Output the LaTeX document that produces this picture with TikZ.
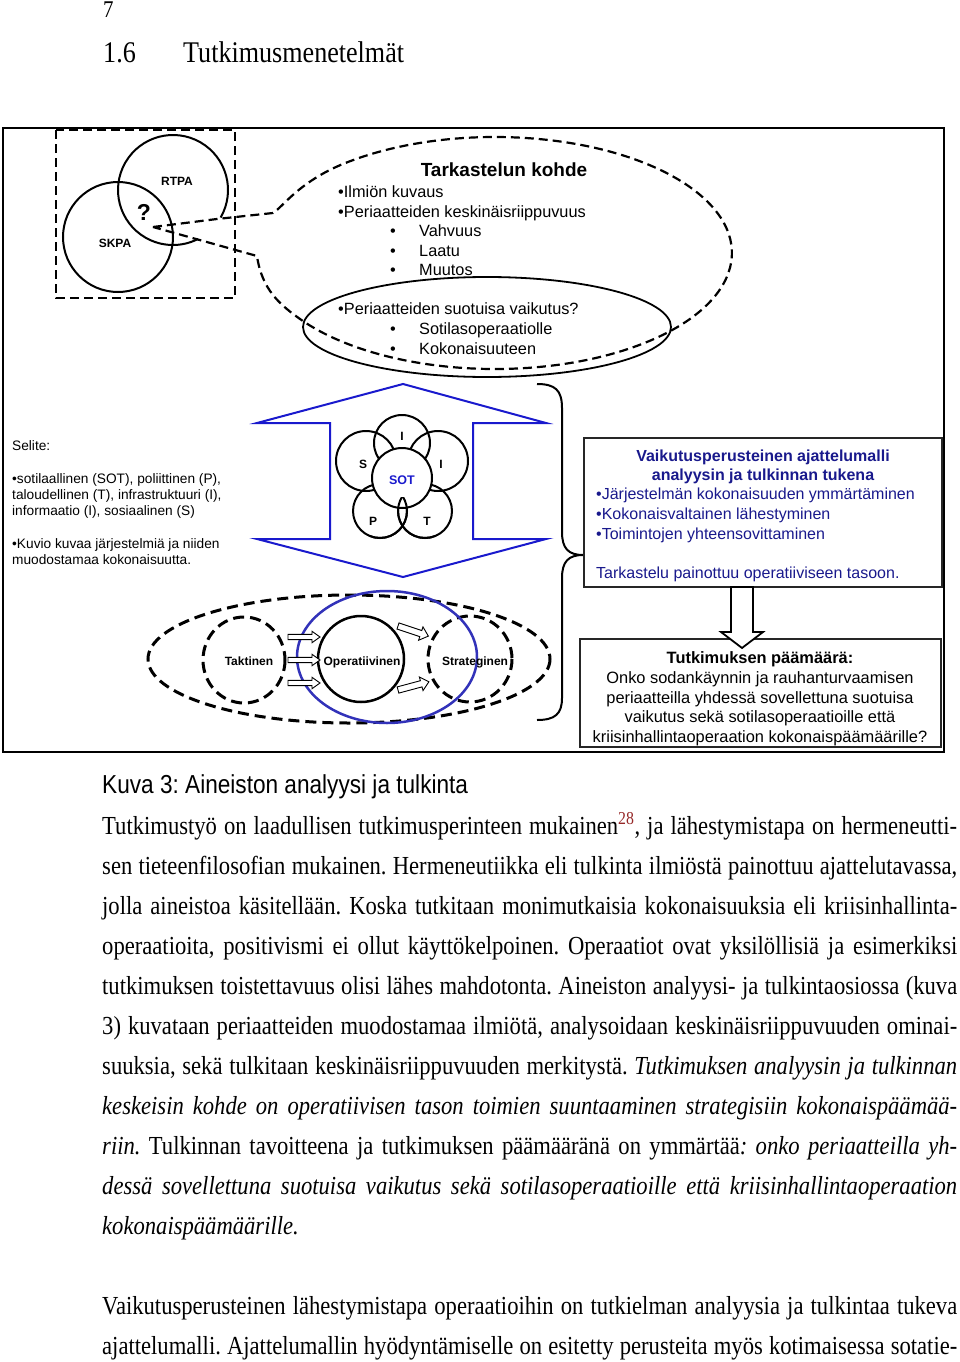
\documentclass[tikz,border=0pt]{standalone}
\usepackage{fontspec}
\setmainfont{Liberation Serif}[FakeStretch=0.87]
\newfontfamily\arial{Liberation Sans}
\newfontfamily\capsans{Liberation Sans}[FakeStretch=0.87]
\usetikzlibrary{calc}
\definecolor{arrowblue}{RGB}{25,25,205}
\definecolor{ellblue}{RGB}{50,50,185}
\definecolor{txtblue}{RGB}{25,25,140}
\definecolor{footred}{RGB}{150,40,40}
\newcommand\jl[1]{\makebox[855pt][s]{#1}}
\newcommand\blockarr[4]{%
\begin{scope}[shift={#1}, rotate=#2]
\draw[line width=0.9pt, fill=white] (0,-#4) -- ({#3-8},-#4) -- ({#3-8},{-2.2*#4}) -- (#3,0) -- ({#3-8},{2.2*#4}) -- ({#3-8},#4) -- (0,#4) -- cycle;
\end{scope}}
\frenchspacing
\begin{document}
\frenchspacing
\begin{tikzpicture}[x=1pt,y=-1pt,
  fig/.style={inner sep=0pt, anchor=base west, font=\arial\fontsize{16.3}{19}\selectfont},
  figc/.style={inner sep=0pt, anchor=base, font=\arial\fontsize{16.4}{19}\selectfont},
  sel/.style={inner sep=0pt, anchor=base west, font=\arial\fontsize{13.7}{15}\selectfont},
  tiny/.style={inner sep=0pt, anchor=base, font=\arial\bfseries\fontsize{12}{14}\selectfont},
  body/.style={inner sep=0pt, anchor=base west, font=\fontsize{26}{30}\selectfont},
  dsh/.style={line width=2.2pt, dash pattern=on 9pt off 5pt},
  dshb/.style={line width=3pt, dash pattern=on 11pt off 6pt},
  circ/.style={line width=2pt},
  boxst/.style={draw=black!85, line width=1.3pt, inner sep=0pt}
]
\useasboundingbox (0,0) rectangle (960,1362);

% ---- page header ----
\node[body, font=\fontsize{24}{28}\selectfont] (pnum) at (103,18) {7};
\node[body, font=\fontsize{30}{34}\selectfont] (secnum) at (103,63) {1.6};
\node[body, font=\fontsize{30}{34}\selectfont] (sectitle) at (183,63) {Tutkimusmenetelmät};

% ---- figure frame ----
\draw[line width=2pt] (2.5,128) rectangle (944,752);

% ---- top-left: SKPA / RTPA ----
\draw[dsh] (56,130) rectangle (235,298);
\draw[circ] (173,190) ++(30:55) arc[start angle=30, end angle=-297, radius=55];
\draw[circ] (118,237) circle[radius=55];
\node[tiny] (rtpa) at (177,185) {RTPA};
\node[tiny] (skpa) at (115,247) {SKPA};
\node[tiny, font=\arial\bfseries\fontsize{23}{26}\selectfont] (q) at (144,220) {?};

% ---- callout ----
\coordinate (tip) at (153,227);
\draw[dsh] (tip) -- (217,219) -- (273,213) .. controls (283,207) and (300,180) .. (349,161.6)
  arc[start angle=-128, end angle=144.5, x radius=237, y radius=116]
  .. controls (280,305) and (262,290) .. (257,256) -- (tip);
\draw[line width=1.8pt] (487,327) ellipse[x radius=184, y radius=50];

\node[figc, font=\arial\bfseries\fontsize{19}{21}\selectfont] (tk) at (504,176) {Tarkastelun kohde};
\node[fig] (c1) at (338,197) {•Ilmiön kuvaus};
\node[fig] (c2) at (338,217) {•Periaatteiden keskinäisriippuvuus};
\node[fig] (c3b) at (390,236) {•};
\node[fig] (c3) at (419,236) {Vahvuus};
\node[fig] (c4b) at (390,256) {•};
\node[fig] (c4) at (419,256) {Laatu};
\node[fig] (c5b) at (390,275) {•};
\node[fig] (c5) at (419,275) {Muutos};
\node[fig] (c6) at (338,314) {•Periaatteiden suotuisa vaikutus?};
\node[fig] (c7b) at (390,334) {•};
\node[fig] (c7) at (419,334) {Sotilasoperaatiolle};
\node[fig] (c8b) at (390,354) {•};
\node[fig] (c8) at (419,354) {Kokonaisuuteen};

% ---- legend ----
\node[sel] (s0) at (12,450) {Selite:};
\node[sel] (s1) at (12,483) {•sotilaallinen (SOT), poliittinen (P),};
\node[sel] (s2) at (12,499) {taloudellinen (T), infrastruktuuri (I),};
\node[sel] (s3) at (12,515) {informaatio (I), sosiaalinen (S)};
\node[sel] (s4) at (12,548) {•Kuvio kuvaa järjestelmiä ja niiden};
\node[sel] (s5) at (12,564) {muodostamaa kokonaisuutta.};

% ---- blue double arrow ----
\draw[arrowblue, line width=2pt, line join=miter] (403,384) -- (546,423) -- (473,423) -- (473,539) -- (546,539)
  -- (403,577) -- (257,539) -- (330,539) -- (330,423) -- (257,423) -- cycle;

% ---- Venn of systems ----
\draw[circ] (402,443) circle[radius=28];
\draw[circ] (366,461) circle[radius=30];
\draw[circ] (438,461) circle[radius=30];
\draw[circ] (380,511) circle[radius=27];
\draw[circ] (425,511) circle[radius=27];
\draw[circ, fill=white] (402,478) circle[radius=30];
\begin{scope}
\clip (370,497) rectangle (435,545);
\draw[circ] (380,511) circle[radius=27];
\draw[circ] (425,511) circle[radius=27];
\end{scope}
\node[tiny] (vI1) at (402,440) {I};
\node[tiny] (vS) at (363,468) {S};
\node[tiny] (vI2) at (441,468) {I};
\node[tiny, text=arrowblue, font=\arial\bfseries\fontsize{12.5}{14}\selectfont] (vSOT) at (402,484) {SOT};
\node[tiny] (vP) at (373,525) {P};
\node[tiny] (vT) at (427,525) {T};

% ---- brace ----
\draw[line width=2pt] (537,384) .. controls (555,384) and (562,390) .. (562,408) -- (562,532)
  .. controls (562,548) and (568,555) .. (583,555) .. controls (568,555) and (562,562) .. (562,578)
  -- (562,698) .. controls (562,714) and (555,720) .. (537,720);

% ---- box 1 ----
\node[boxst, minimum width=358pt, minimum height=149pt] (b1) at (763,512.5) {};
\node[figc, text=txtblue, font=\arial\bfseries\fontsize{16}{19}\selectfont] (b1t1) at (763,461) {Vaikutusperusteinen ajattelumalli};
\node[figc, text=txtblue, font=\arial\bfseries\fontsize{16}{19}\selectfont] (b1t2) at (763,480) {analyysin ja tulkinnan tukena};
\node[fig, text=txtblue, font=\arial\fontsize{16}{19}\selectfont] (b1l1) at (596,499) {•Järjestelmän kokonaisuuden ymmärtäminen};
\node[fig, text=txtblue, font=\arial\fontsize{16}{19}\selectfont] (b1l2) at (596,519) {•Kokonaisvaltainen lähestyminen};
\node[fig, text=txtblue, font=\arial\fontsize{16}{19}\selectfont] (b1l3) at (596,539) {•Toimintojen yhteensovittaminen};
\node[fig, text=txtblue, font=\arial\fontsize{16}{19}\selectfont] (b1l4) at (596,578) {Tarkastelu painottuu operatiiviseen tasoon.};

% ---- box 2 ----
\node[boxst, minimum width=361pt, minimum height=108pt] (b2) at (760.5,693) {};
\node[figc, font=\arial\bfseries\fontsize{16.4}{19}\selectfont] (b2t) at (760,663) {Tutkimuksen päämäärä:};
\node[figc] (b2l1) at (760,683) {Onko sodankäynnin ja rauhanturvaamisen};
\node[figc] (b2l2) at (760,703) {periaatteilla yhdessä sovellettuna suotuisa};
\node[figc] (b2l3) at (760,722) {vaikutus sekä sotilasoperaatioille että};
\node[figc] (b2l4) at (760,742) {kriisinhallintaoperaation kokonaispäämäärille?};

% ---- arrow box1 -> box2 ----
\coordinate (ar) at (742,587);
\draw[line width=1.8pt, fill=white, line join=miter] ($(ar)+(-11,0)$) -- ($(ar)+(11,0)$) -- ($(ar)+(11,45)$) -- ($(ar)+(21,45)$)
  -- ($(ar)+(0,61)$) -- ($(ar)+(-21,45)$) -- ($(ar)+(-11,45)$) -- cycle;

% ---- levels ----
\draw[dshb] (349,659) ellipse[x radius=201, y radius=64];
\draw[dshb] (244,660) ellipse[x radius=41, y radius=43];
\draw[dshb] (470,659) ellipse[x radius=42, y radius=43];
\draw[line width=2.5pt] (361,659) circle[radius=43];
\draw[ellblue, line width=2.5pt] (387,657) ellipse[x radius=90, y radius=66];
\blockarr{(288,637)}{0}{32}{2.6}
\blockarr{(288,660)}{0}{32}{2.6}
\blockarr{(288,683)}{0}{32}{2.6}
\blockarr{(398,626)}{-18.4}{32}{3.2}
\blockarr{(398,690)}{15}{32}{3.2}
\node[tiny] (lt) at (249,665) {Taktinen};
\node[tiny] (lo) at (362,665) {Operatiivinen};
\node[tiny] (ls) at (475,665) {Strateginen};

% ---- caption and body ----
\node[body, font=\capsans\fontsize{26}{30}\selectfont] (cap) at (102,793) {Kuva 3: Aineiston analyysi ja tulkinta};
\node[body] (l1) at (102,834) {\jl{Tutkimustyö on laadullisen tutkimusperinteen mukainen\textcolor{footred}{\textsuperscript{28}}, ja lähestymistapa on hermeneutti-}};
\node[body] (l2) at (102,874) {\jl{sen tieteenfilosofian mukainen. Hermeneutiikka eli tulkinta ilmiöstä painottuu ajattelutavassa,}};
\node[body] (l3) at (102,914) {\jl{jolla aineistoa käsitellään. Koska tutkitaan monimutkaisia kokonaisuuksia eli kriisinhallinta-}};
\node[body] (l4) at (102,954) {\jl{operaatioita, positivismi ei ollut käyttökelpoinen. Operaatiot ovat yksilöllisiä ja esimerkiksi}};
\node[body] (l5) at (102,994) {\jl{tutkimuksen toistettavuus olisi lähes mahdotonta. Aineiston analyysi- ja tulkintaosiossa (kuva}};
\node[body] (l6) at (102,1034) {\jl{3) kuvataan periaatteiden muodostamaa ilmiötä, analysoidaan keskinäisriippuvuuden ominai-}};
\node[body] (l7) at (102,1074) {\jl{suuksia, sekä tulkitaan keskinäisriippuvuuden merkitystä. \textit{Tutkimuksen analyysin ja tulkinnan}}};
\node[body] (l8) at (102,1114) {\jl{\textit{keskeisin kohde on operatiivisen tason toimien suuntaaminen strategisiin kokonaispäämää-}}};
\node[body] (l9) at (102,1154) {\jl{\textit{riin.} Tulkinnan tavoitteena ja tutkimuksen päämääränä on ymmärtää\textit{: onko periaatteilla yh-}}};
\node[body] (l10) at (102,1194) {\jl{\textit{dessä sovellettuna suotuisa vaikutus sekä sotilasoperaatioille että kriisinhallintaoperaation}}};
\node[body] (l11) at (102,1234) {\textit{kokonaispäämäärille.}};
\node[body] (l12) at (102,1314) {\jl{Vaikutusperusteinen lähestymistapa operaatioihin on tutkielman analyysia ja tulkintaa tukeva}};
\node[body] (l13) at (102,1354) {\jl{ajattelumalli. Ajattelumallin hyödyntämiselle on esitetty perusteita myös kotimaisessa sotatie-}};
\end{tikzpicture}
\end{document}
